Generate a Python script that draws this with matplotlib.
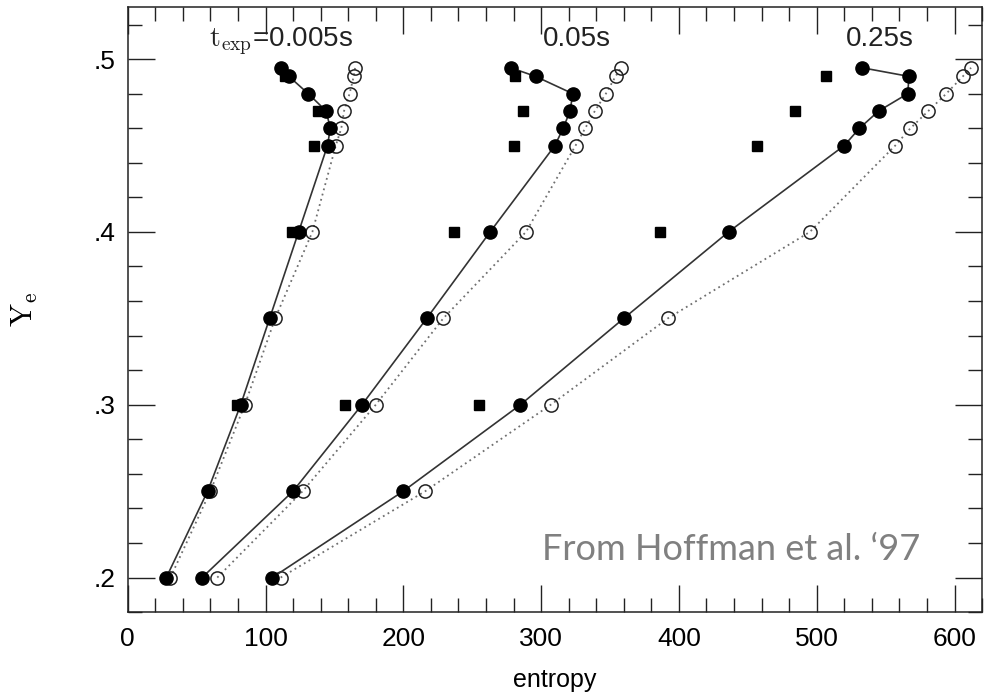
"""Y_e versus entropy for three expansion timescales (after Hoffman et al. 1997)."""

import matplotlib
matplotlib.use("Agg")
import matplotlib.pyplot as plt
from matplotlib.ticker import FixedLocator, MultipleLocator

plt.rcParams["font.family"] = ["Liberation Sans", "DejaVu Sans"]
plt.rcParams["mathtext.fontset"] = "cm"

# Y_e levels shared by the circle series
ye = [0.2, 0.25, 0.3, 0.35, 0.4, 0.45, 0.46, 0.47, 0.48, 0.49, 0.495]

# filled circles (solid line) and open circles (dotted line), entropy values
filled_005 = [28, 58, 82, 103, 124, 145, 147, 144, 131, 117, 111]
open_005 = [31, 60, 85, 107, 134, 151, 155, 157, 161, 164, 165]

filled_05 = [54, 120, 170, 217, 263, 310, 316, 321, 323, 296, 278]
open_05 = [65, 127, 180, 229, 289, 325, 332, 339, 347, 354, 358]

filled_25 = [105, 200, 285, 360, 436, 520, 531, 545, 566, 567, 533]
open_25 = [111, 216, 307, 392, 495, 557, 568, 581, 594, 606, 612]

# squares (no line)
sq_ye = [0.3, 0.4, 0.45, 0.47, 0.49]
sq_005 = [79, 119, 135, 138, 114]
sq_05 = [158, 237, 280, 287, 281]
sq_25 = [255, 386, 457, 484, 507]

labels = [r"$\mathrm{t_{exp}}$=0.005s", "0.05s", "0.25s"]
label_x = [59, 301, 521]

fig = plt.figure(figsize=(9.9, 6.94), dpi=100)
ax = fig.add_axes([0.129, 0.118, 0.863, 0.8715])

for filled, opened, sq in [(filled_005, open_005, sq_005),
                           (filled_05, open_05, sq_05),
                           (filled_25, open_25, sq_25)]:
    ax.plot(opened, ye, linestyle=(0, (1, 2)), color="#6f6f6f", linewidth=1.3,
            marker="o", markersize=9.5, markerfacecolor="none",
            markeredgecolor="#222222", markeredgewidth=1.1, zorder=2)
    ax.plot(filled, ye, "-", color="#333333", linewidth=1.2,
            marker="o", markersize=9.5, markerfacecolor="black",
            markeredgecolor="black", zorder=3)
    ax.plot(sq, sq_ye, "s", color="black", markersize=7, linestyle="none", zorder=4)

for txt, x in zip(labels, label_x):
    ax.text(x, 0.5077, txt, fontsize=20, ha="left", va="baseline", color="#222222")

ax.text(575, 0.2102, "From Hoffman et al. \u201897", fontsize=26, color="#808080",
        family=["Lato", "DejaVu Sans"], ha="right", va="baseline")

ax.set_xlim(0, 620)
ax.set_ylim(0.18, 0.53)

ax.xaxis.set_major_locator(MultipleLocator(100))
ax.xaxis.set_minor_locator(MultipleLocator(20))
ax.yaxis.set_major_locator(FixedLocator([0.2, 0.3, 0.4, 0.5]))
ax.yaxis.set_minor_locator(MultipleLocator(0.02))
ax.set_yticklabels([".2", ".3", ".4", ".5"])

ax.tick_params(which="both", direction="in", top=True, right=True, width=1.0, color="#222222")
ax.tick_params(which="major", length=19.5)
ax.tick_params(which="minor", length=10)
ax.tick_params(axis="x", which="major", labelsize=19, pad=11)
ax.tick_params(axis="y", which="major", labelsize=19, pad=9)

for spine in ax.spines.values():
    spine.set_linewidth(1.1)
    spine.set_color("#222222")

ax.set_xlabel("entropy", fontsize=18)
ax.set_ylabel(r"$\mathrm{Y_e}$", fontsize=22)
ax.yaxis.set_label_coords(-0.103, 0.5)
ax.xaxis.set_label_coords(0.5, -0.093)

fig.savefig("out.png", dpi=100)
